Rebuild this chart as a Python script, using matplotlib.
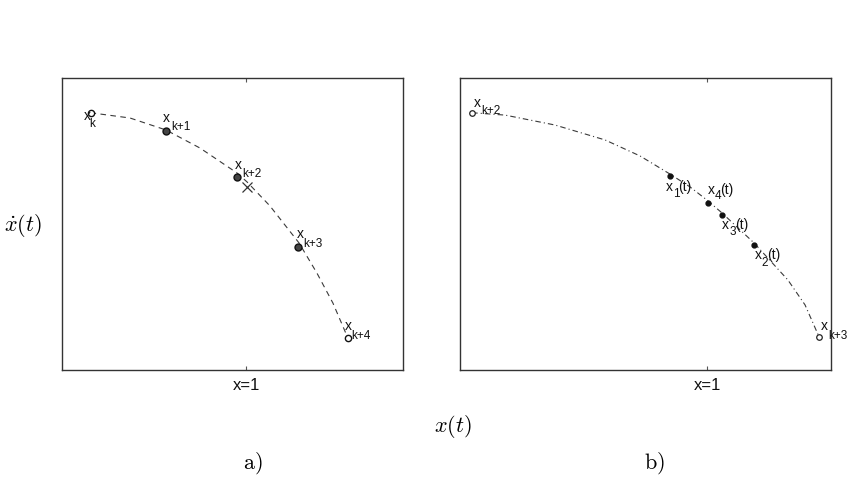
import matplotlib
matplotlib.use("Agg")
import matplotlib.pyplot as plt

plt.rcParams["font.family"] = ["Liberation Sans", "DejaVu Sans"]
plt.rcParams["lines.scale_dashes"] = False

# ---- data (x: state, y: derivative) ----
# panel a) integration points x_k ... x_{k+4}
a_px = [0.155, 0.563, 0.951, 1.282, 1.550]
a_py = [0.881, 0.818, 0.662, 0.422, 0.111]
a_open = [True, False, False, False, True]
a_subs = ["k", "k+1", "k+2", "k+3", "k+4"]
# the cross marks the switching point near x=1
cross_x = [1.006]
cross_y = [0.628]
# trajectory through the points (dashed)
a_cx = [0.155, 0.369, 0.564, 0.749, 0.949, 1.004, 1.128, 1.286, 1.383, 1.470, 1.550]
a_cy = [0.881, 0.863, 0.822, 0.760, 0.675, 0.644, 0.562, 0.435, 0.332, 0.229, 0.111]

# panel b) end points x_{k+2}, x_{k+3} and intermediate points x_i(t)
b_end_x = [0.050, 1.452]
b_end_y = [0.881, 0.114]
b_end_subs = ["k+2", "k+3"]
b_mid_x = [0.849, 1.188, 1.058, 1.002]
b_mid_y = [0.664, 0.428, 0.531, 0.573]
b_mid_subs = ["1", "2", "3", "4"]
b_cx = [0.049, 0.182, 0.384, 0.586, 0.728, 0.849, 0.930, 1.003, 1.059, 1.189, 1.326, 1.395, 1.452]
b_cy = [0.881, 0.873, 0.839, 0.788, 0.733, 0.671, 0.627, 0.579, 0.538, 0.435, 0.308, 0.223, 0.113]

tick_pos = [1]
tick_labels = ["x=1"]

# ---- figure ----
fig = plt.figure(figsize=(8.55, 4.94), dpi=100)
ax_a = fig.add_axes([62 / 855, 124 / 494, 341 / 855, 292 / 494])
ax_b = fig.add_axes([460 / 855, 124 / 494, 371 / 855, 292 / 494])

line_col = "#3a3a3a"


def style_axes(ax, xmax):
    ax.set_xlim(0, xmax)
    ax.set_ylim(0, 1)
    ax.set_xticks(tick_pos)
    ax.set_xticklabels(tick_labels, fontsize=12, color="#111111")
    ax.set_yticks([])
    ax.tick_params(axis="x", direction="in", top=True, length=3, width=0.8,
                   color="#555555", pad=6)
    for s in ax.spines.values():
        s.set_color("#333333")
        s.set_linewidth(1.0)


def xlabel(ax, x, y, sub, ox, oy, sx, sy, tail=None, tx=0):
    # "x" with a low MATLAB-like subscript, offsets in pixels (y down)
    kw = dict(xycoords="data", textcoords="offset pixels", ha="left",
              va="baseline", color="#111111")
    ax.annotate("x", (x, y), xytext=(ox, -oy), fontsize=10, **kw)
    ax.annotate(sub, (x, y), xytext=(sx, -sy), fontsize=8.5, **kw)
    if tail:
        ax.annotate(tail, (x, y), xytext=(tx, -oy), fontsize=10, **kw)


# panel a)
style_axes(ax_a, 1.85)
ax_a.plot(a_cx, a_cy, color=line_col, lw=0.8, dashes=(4, 3.2))
for x, y, op in zip(a_px, a_py, a_open):
    if op:
        ax_a.plot(x, y, "o", ms=4.5, mfc="white", mec="#111111", mew=1.0)
    else:
        ax_a.plot(x, y, "o", ms=5, mfc="#444444", mec="#111111", mew=1.0)
ax_a.plot(cross_x, cross_y, "x", ms=7, color="#333333", mew=0.9)

a_offsets = [(-7, 7, -1, 14), (-3, -9, 5, -1), (-2, -8, 5, 0),
             (-1, -8.5, 5, 0), (-2.5, -7.5, 3.5, 1.5)]
for x, y, s, (ox, oy, sx, sy) in zip(a_px, a_py, a_subs, a_offsets):
    xlabel(ax_a, x, y, s, ox, oy, sx, sy)

# panel b)
style_axes(ax_b, 1.5)
ax_b.plot(b_cx, b_cy, color=line_col, lw=0.8, dashes=(4, 2.2, 0.8, 2.2))
ax_b.plot(b_end_x, b_end_y, "o", ms=4, mfc="white", mec="#222222", mew=0.9,
          ls="none")
ax_b.plot(b_mid_x, b_mid_y, "o", ms=3.5, mfc="#111111", mec="#111111",
          ls="none")

b_end_offsets = [(1, -6, 9, 1.5), (2, -6.7, 9, 2.5)]
for x, y, s, (ox, oy, sx, sy) in zip(b_end_x, b_end_y, b_end_subs, b_end_offsets):
    xlabel(ax_b, x, y, s, ox, oy, sx, sy)

b_mid_offsets = [(-4, 14.5, 3, 20.5, 8), (1, 14.3, 8, 21, 13),
                 (0, 14.3, 8, 20, 13), (0, -8.7, 7, -3.5, 12)]
for x, y, s, (ox, oy, sx, sy, tx) in zip(b_mid_x, b_mid_y, b_mid_subs, b_mid_offsets):
    xlabel(ax_b, x, y, s, ox, oy, sx, sy, tail="(t)", tx=tx)

# shared labels in TeX style
fig.text(22.5 / 855, 1 - 225 / 494, r"$\dot{x}(t)$", fontsize=16,
         math_fontfamily="cm", ha="center", va="center")
fig.text(452.5 / 855, 1 - 426 / 494, r"$x(t)$", fontsize=16,
         math_fontfamily="cm", ha="center", va="center")
fig.text(253 / 855, 1 - 463.5 / 494, r"$\mathrm{a)}$", fontsize=16,
         math_fontfamily="cm", ha="center", va="center")
fig.text(654 / 855, 1 - 463.5 / 494, r"$\mathrm{b)}$", fontsize=16,
         math_fontfamily="cm", ha="center", va="center")

fig.savefig("out.png", dpi=100)
